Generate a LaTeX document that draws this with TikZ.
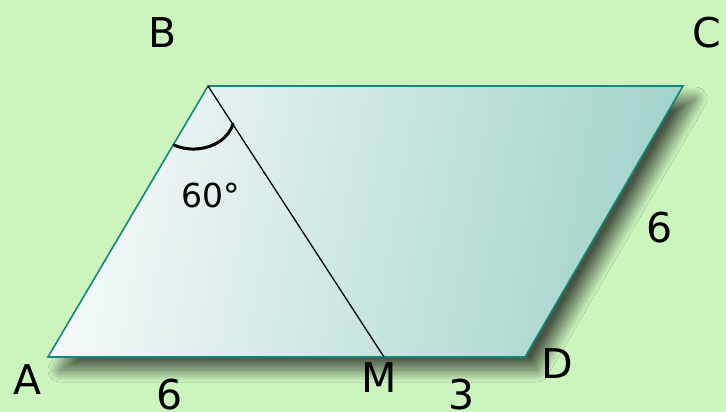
\documentclass[tikz,border=0pt]{standalone}
\usepackage{fontspec}
\setmainfont{DejaVu Sans}
\usetikzlibrary{shadows.blur}
\definecolor{bg}{HTML}{CCF5BE}
\definecolor{edge}{HTML}{12877A}
\definecolor{lightfill}{HTML}{F4F9F9}
\definecolor{darkfill}{HTML}{A2D3CA}
\begin{document}
\begin{tikzpicture}[x=1pt,y=-1pt,
  lbl/.style={font=\fontsize{41}{45}\selectfont, text=black, inner sep=0pt},
  side/.style={draw=edge, line width=1.6pt, line join=miter}]
\fill[bg] (0,0) rectangle (726,412);
\useasboundingbox (0,0) rectangle (726,412);
\coordinate (A) at (48,357);
\coordinate (B) at (208,86);
\coordinate (C) at (683,86);
\coordinate (D) at (525,357);
\coordinate (M) at (384,357);
\path[side, blur shadow={shadow xshift=12pt, shadow yshift=-13pt, shadow blur radius=12pt, shadow opacity=65, shadow blur steps=24},
  left color=lightfill, right color=darkfill, shading angle=80]
  (A) -- (B) -- (C) -- (D) -- cycle;
\draw[black, line width=1.3pt] (B) -- (M);
\draw[black, line width=3pt, line cap=round] (174,145) .. controls (196,155) and (226,146) .. (233,124);
\node[lbl] (lB) at (163,33) {B};
\node[lbl] (lC) at (707,33) {C};
\node[lbl] (lA) at (28,380) {A};
\node[lbl] (lM) at (379,378) {M};
\node[lbl] (lD) at (557,364) {D};
\node[lbl] (s1) at (170,395) {6};
\node[lbl] (s2) at (462,395) {3};
\node[lbl] (s3) at (660,228) {6};
\node[inner sep=0pt, font=\fontsize{33}{36}\selectfont] (ang) at (211,195) {60°};
\end{tikzpicture}
\end{document}
